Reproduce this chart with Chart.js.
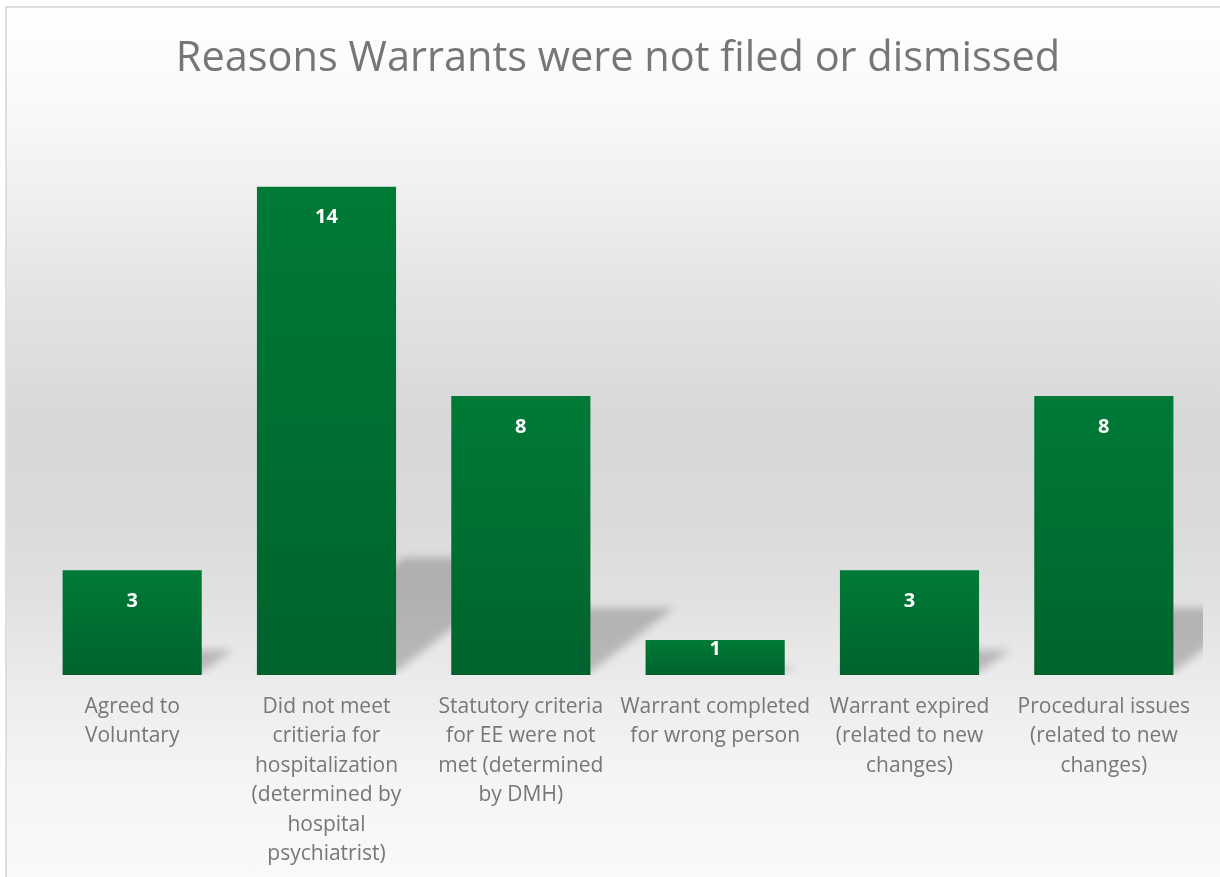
<!DOCTYPE html>
<html>
<head>
<meta charset="utf-8">
<title>Reasons Warrants were not filed or dismissed</title>
<script src="https://cdn.jsdelivr.net/npm/chart.js@4.4.0/dist/chart.umd.min.js"></script>
<style>
  body { margin: 0; background: #fff; }
  #frame {
    position: absolute; left: 5px; top: 6px;
    width: 1220px; height: 880px;
    border: 2px solid #dedede;
    background: linear-gradient(to bottom, #ffffff 0%, #f9f9f9 11%, #efefef 22%, #e2e2e2 34%, #d8d8d8 47%, #dadada 58%, #e1e1e1 67%, #ececec 77%, #f5f5f5 88%, #fafafa 100%);
  }
  canvas { display: block; }
</style>
</head>
<body>
<div id="frame"><canvas id="myChart" width="1213" height="869"></canvas></div>
<script>
/* Chart data */
const categories = [
  "Agreed to Voluntary",
  "Did not meet critieria for hospitalization (determined by hospital psychiatrist)",
  "Statutory criteria for EE were not met (determined by DMH)",
  "Warrant completed for wrong person",
  "Warrant expired (related to new changes)",
  "Procedural issues (related to new changes)"
];
// tick labels, wrapped the way the picture shows them
const tickLabels = [
  ["Agreed to", "Voluntary"],
  ["Did not meet", "critieria for", "hospitalization", "(determined by", "hospital", "psychiatrist)"],
  ["Statutory criteria", "for EE were not", "met (determined", "by DMH)"],
  ["Warrant completed", "for wrong person"],
  ["Warrant expired", "(related to new", "changes)"],
  ["Procedural issues", "(related to new", "changes)"]
];
const counts = [3, 14, 8, 1, 3, 8];

const FONT = "'Open Sans', Lato, sans-serif";

// soft perspective shadow behind each bar
const barShadows = {
  id: 'barShadows',
  beforeDatasetsDraw(chart) {
    const ctx = chart.ctx;
    const area = chart.chartArea;
    ctx.save();
    ctx.beginPath();
    ctx.rect(area.left, area.top, area.right - area.left + 2, area.bottom - area.top);
    ctx.clip();
    ctx.filter = 'blur(4px)';
    ctx.fillStyle = 'rgba(0,0,0,0.21)';
    chart.getDatasetMeta(0).data.forEach(function(bar) {
      const h = bar.base - bar.y;
      const x0 = bar.x - bar.width / 2;
      const x1 = bar.x + bar.width / 2;
      const dx = h * 0.3, dy = h * 0.24;
      ctx.beginPath();
      ctx.moveTo(x0, bar.base - 3);
      ctx.lineTo(x1, bar.base - 3);
      ctx.lineTo(x1 + dx, bar.base - dy);
      ctx.lineTo(x0 + dx, bar.base - dy);
      ctx.closePath();
      ctx.fill();
    });
    ctx.restore();
  }
};

// white value labels inside the top of the bars
const valueLabels = {
  id: 'valueLabels',
  afterDatasetsDraw(chart) {
    const ctx = chart.ctx;
    const ds = chart.data.datasets[0];
    ctx.save();
    ctx.font = "bold 20px " + FONT;
    ctx.fillStyle = '#ffffff';
    ctx.textAlign = 'center';
    ctx.textBaseline = 'middle';
    chart.getDatasetMeta(0).data.forEach(function(bar, i) {
      const h = bar.base - bar.y;
      const y = h > 60 ? bar.y + 31 : bar.y + 9;
      ctx.fillText(String(ds.data[i]), bar.x, y);
    });
    ctx.restore();
  }
};

const ctx = document.getElementById('myChart').getContext('2d');
const chart = new Chart(ctx, {
  type: 'bar',
  data: {
    labels: tickLabels,
    datasets: [{
      label: 'Count',
      data: counts,
      backgroundColor: function(context) {
        const c = context.chart;
        const yScale = c.scales.y;
        if (!c.chartArea || !yScale || context.raw === undefined) return '#006e32';
        const top = yScale.getPixelForValue(context.raw);
        const bottom = yScale.getPixelForValue(0);
        const g = c.ctx.createLinearGradient(0, top, 0, bottom);
        g.addColorStop(0, '#007a37');
        g.addColorStop(1, '#00632d');
        return g;
      },
      borderWidth: 0,
      barPercentage: 0.716,
      categoryPercentage: 1
    }]
  },
  options: {
    responsive: false,
    animation: false,
    events: [],
    layout: { padding: { left: 28, right: 19, top: 0, bottom: 0 } },
    plugins: {
      legend: { display: false },
      tooltip: { enabled: false },
      title: {
        display: true,
        text: 'Reasons Warrants were not filed or dismissed',
        color: '#767676',
        font: { family: FONT, size: 41.5, weight: 'normal', lineHeight: '43px' },
        padding: { top: 30, bottom: 1 }
      }
    },
    scales: {
      x: {
        grid: { display: false, drawTicks: false },
        border: { display: false },
        ticks: {
          color: '#777777',
          font: { family: FONT, size: 21, lineHeight: '29.5px' },
          padding: 17,
          maxRotation: 0,
          autoSkip: false
        },
        afterFit: function(scale) { scale.height = 202; }
      },
      y: {
        display: false,
        min: 0,
        max: 17
      }
    }
  },
  plugins: [barShadows, valueLabels]
});
</script>
</body>
</html>
